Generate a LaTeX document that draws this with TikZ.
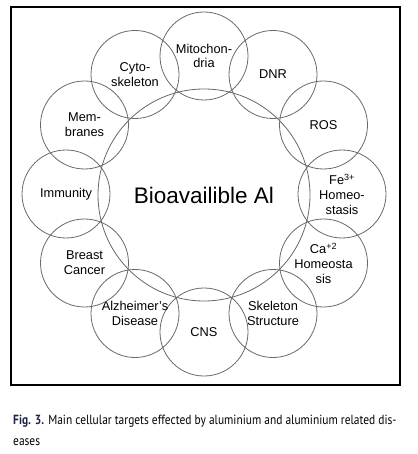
\documentclass[tikz,border=0pt]{standalone}
\usepackage{fontspec}
\setmainfont{Liberation Sans}
\newfontfamily\capfont[FakeStretch=0.86]{PT Sans}
\definecolor{ringgray}{HTML}{686868}
\definecolor{capblue}{HTML}{1C2448}
\begin{document}
\begin{tikzpicture}[x=1pt,y=-1pt,
  target/.style={circle,draw=ringgray,line width=0.8pt,minimum size=88pt,inner sep=0pt,
    align=center,font=\fontsize{12.8}{14.8}\selectfont},
  core/.style={circle,draw=ringgray,line width=0.8pt,minimum size=212pt,inner sep=0pt,
    font=\fontsize{22.5}{26}\selectfont},
  caption/.style={anchor=base west,inner sep=0pt,font=\capfont\fontsize{13.3}{16}\selectfont}]
\useasboundingbox (0,0) rectangle (417,454);
\draw[line width=1.1pt] (11,7) rectangle (400,385);
\node[core] (core) at (204,195) {Bioavailible Al};
\node[target] (mito) at (204,56) {Mitochon-\\dria};
\node[target] (dnr) at (273,74.5) {DNR};
\node[target] (ros) at (323.5,125) {ROS};
\node[target] (fe) at (342,194) {Fe\textsuperscript{3+}\\Homeo-\\stasis};
\node[target] (ca) at (323.5,263) {Ca\textsuperscript{+2}\\Homeosta\\sis};
\node[target] (skel) at (273,313.5) {Skeleton\\Structure};
\node[target] (cns) at (204,332) {CNS};
\node[target] (alz) at (135,313.5) {Alzheimer's\\Disease};
\node[target] (breast) at (84.5,263) {Breast\\Cancer};
\node[target] (immun) at (66,194) {Immunity};
\node[target] (memb) at (84.5,125) {Mem-\\branes};
\node[target] (cyto) at (135,74.5) {Cyto-\\skeleton};
\node[caption] (cap1) at (13,424) {\textcolor{capblue}{\bfseries Fig. 3.} Main cellular targets effected by aluminium and aluminium related dis-};
\node[caption] (cap2) at (13,445) {eases};
\end{tikzpicture}
\end{document}
